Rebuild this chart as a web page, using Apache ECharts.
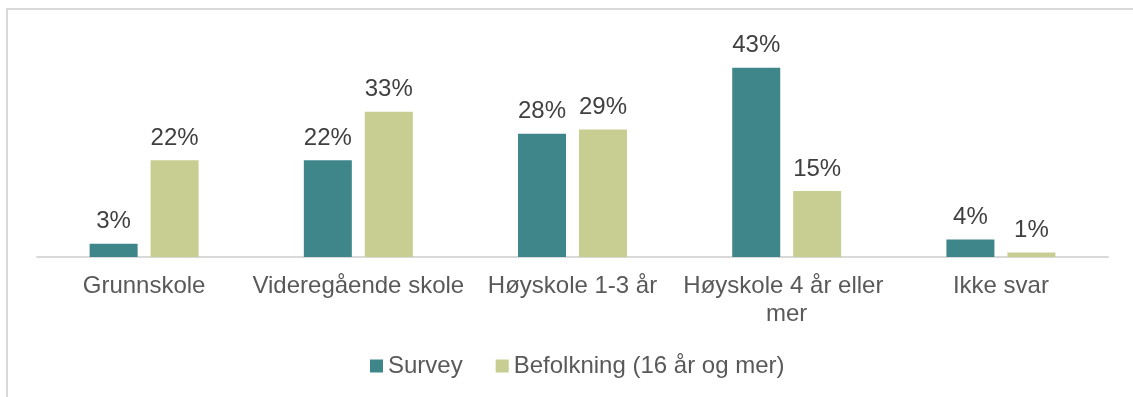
<!DOCTYPE html>
<html>
<head>
<meta charset="utf-8">
<script src="https://cdn.jsdelivr.net/npm/echarts@6/dist/echarts.min.js"></script>
<style>
  html, body { margin: 0; padding: 0; background: #ffffff; }
  #chart { width: 1133px; height: 397px; }
</style>
</head>
<body>
<div id="chart"></div>
<script>
// Education level: survey respondents vs. population aged 16+
const categories = ['Grunnskole', 'Videregående skole', 'Høyskole 1-3 år', 'Høyskole 4 år eller mer', 'Ikke svar'];
const surveyValues = [3, 22, 28, 43, 4];
const populationValues = [22, 33, 29, 15, 1];
const seriesNames = ['Survey', 'Befolkning (16 år og mer)'];

const FONT = '"Liberation Sans", Arial, sans-serif';

const chart = echarts.init(document.getElementById('chart'), null, { renderer: 'canvas' });

const valueLabel = {
  show: true,
  position: 'top',
  distance: 10,
  formatter: p => p.value + '%',
  color: '#404040',
  fontSize: 24,
  fontFamily: FONT
};

chart.setOption({
  animation: false,
  backgroundColor: '#ffffff',
  graphic: [{
    type: 'rect',
    shape: { x: 7, y: 9, width: 1140, height: 400 },
    style: { fill: 'none', stroke: '#d9d9d9', lineWidth: 2 },
    silent: true,
    z: 0
  }],
  grid: { left: 37, right: 25, top: 37, bottom: 140 },
  legend: {
    left: 370,
    top: 354,
    padding: 0,
    itemWidth: 13,
    itemHeight: 13,
    itemGap: 33,
    icon: 'rect',
    textStyle: { color: '#595959', fontSize: 24, fontFamily: FONT },
    data: seriesNames
  },
  xAxis: {
    type: 'category',
    data: categories,
    axisLine: { show: true, lineStyle: { color: '#d9d9d9', width: 2 } },
    axisTick: { show: false },
    axisLabel: {
      interval: 0,
      margin: 15,
      color: '#595959',
      fontSize: 24,
      fontFamily: FONT,
      lineHeight: 28,
      width: 240,
      overflow: 'break'
    }
  },
  yAxis: {
    type: 'value',
    min: 0,
    max: 50,
    show: false,
    splitLine: { show: false }
  },
  series: [
    {
      name: seriesNames[0],
      type: 'bar',
      data: surveyValues,
      barWidth: 48,
      barGap: '27%',
      itemStyle: { color: '#3e868a' },
      label: valueLabel
    },
    {
      name: seriesNames[1],
      type: 'bar',
      data: populationValues,
      barWidth: 48,
      itemStyle: { color: '#c8cd91' },
      label: valueLabel
    }
  ]
});
</script>
</body>
</html>
